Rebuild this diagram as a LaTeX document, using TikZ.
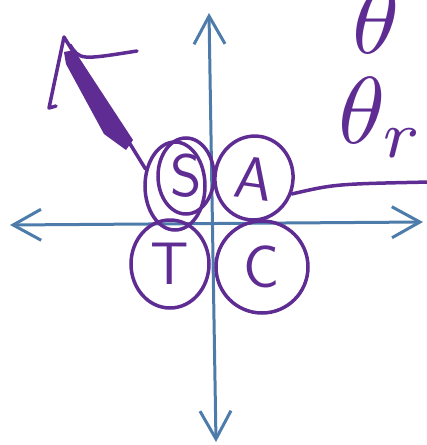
\documentclass[tikz,border=0pt]{standalone}
\usepackage{tikz}
\usetikzlibrary{arrows.meta,positioning,calc,shapes.geometric}
\definecolor{AxisBlue}{RGB}{78,124,170}
\definecolor{InkPurple}{RGB}{94,44,146}

\begin{document}
\begin{tikzpicture}[x=1pt,y=-1pt,
  axis/.style={AxisBlue,line width=3pt,
    {Straight Barb[length=28pt,width=31pt]}-{Straight Barb[length=28pt,width=31pt]}},
  ink/.style={InkPurple,line width=3.5pt,line cap=round,line join=round},
  quad/.style={ellipse,draw=InkPurple,line width=3.5pt,inner sep=0pt,
    text=InkPurple,font=\sffamily\fontsize{60}{60}\selectfont},
  ring/.style={ellipse,draw=InkPurple,line width=3.5pt,inner sep=0pt},
  greek/.style={text=InkPurple,inner sep=0pt}]
  \useasboundingbox (0,0) rectangle (427,445);
  \clip (0,0) rectangle (427,445);
  % axes
  \coordinate (xl) at (10,225);
  \coordinate (xr) at (423,222);
  \coordinate (yt) at (209,13);
  \coordinate (yb) at (216,442);
  \draw[axis] (xl)--(xr);
  \draw[axis] (yb)--(yt);
  % quadrants
  \node[ring,minimum width=60,minimum height=88] (so) at (175,186) {};
  \node[quad,minimum width=56,minimum height=76] (s) at (186,176) {S};
  \node[quad,minimum width=78,minimum height=84,rotate=-8] (a) at (254,178) {A};
  \node[quad,minimum width=78,minimum height=88] (t) at (170,264) {T};
  \node[quad,minimum width=92,minimum height=92] (c) at (262,267) {C};
  % arrow out of S
  \coordinate (tip) at (64,37);
  \draw[ink] (so.150)--(tip);
  \fill[InkPurple] (64,52)--(74,50)--(133,140)--(126,150)--(104,134)--(66,64)--cycle;
  \draw[ink] (tip)--(49,108)--(56,106);
  \draw[ink] (70,45)..controls (80,60)..(137,51);
  % line out of A
  \coordinate (aend) at (430,182);
  \draw[ink] (a.-15)..controls (335,184)..(aend);
  % angles
  \node[greek,anchor=base west] (th) at (352,53) {\scalebox{9.5}{$\theta$}};
  \node[greek,anchor=base west] (thr) at (338,143) {\scalebox{9.5}{$\theta_r$}};
\end{tikzpicture}
\end{document}
